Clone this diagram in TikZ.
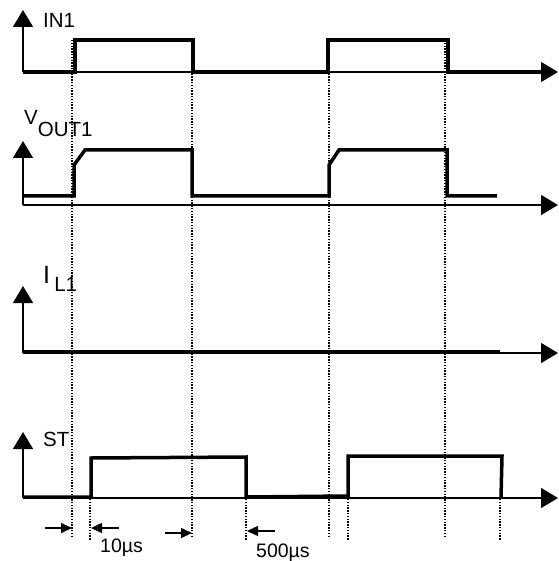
\documentclass[tikz,border=0pt]{standalone}
\usepackage{fontspec}
\setmainfont{Liberation Sans}
\usetikzlibrary{arrows.meta}
\tikzset{signal/.style={line width=3.5pt,line join=miter}}
\tikzset{time axis/.style={line width=1.5pt,-{Triangle[length=17pt,width=20pt]}}}
\tikzset{guide line/.style={line width=2.2pt,dash pattern=on 1.4pt off 1.4pt}}
\tikzset{gap arrow/.style={line width=1.5pt,-{Triangle[length=11pt,width=10pt]}}}
\tikzset{label text/.style={anchor=base west,inner sep=0pt,font=\fontsize{20.5}{22}\selectfont}}

\begin{document}
\begin{tikzpicture}[x=1pt,y=-1pt]
	\useasboundingbox (0,0) rectangle (558,561);
	% vertical guides
	\foreach \x in {72,192,329,445}
		\draw[guide line] (\x,40) -- (\x,537);
	\foreach \x in {90,246,348,500}
		\draw[guide line] (\x,499) -- (\x,540);
	% IN1
	\draw[time axis] (23,72) -- (23,10);
	\draw[time axis] (23,72) -- (558,72);
	\draw[signal] (23,72) -- (75,72) -- (75,40) -- (193,40) -- (193,72) -- (328,72)
		-- (328,40) -- (448,40) -- (448,72) -- (541,72);
	\node[label text] (in label) at (43,28) {IN1};
	% VOUT1
	\draw[time axis] (23,205) -- (23,141);
	\draw[time axis] (23,205) -- (558,205);
	\draw[signal] (23,196) -- (74,196) -- (74,165) -- (85,150) -- (192,150) -- (192,196)
		-- (329,196) -- (329,165) -- (339,150) -- (447,150) -- (447,196) -- (497,196);
	\node[label text] (vout label) at (24,125) {V\raisebox{-12pt}{OUT1}};
	% IL1
	\draw[time axis] (23,353) -- (23,286);
	\draw[time axis] (23,353) -- (558,353);
	\draw[signal] (23,352) -- (500,352);
	\node[label text] (il label) at (43,283) {\fontsize{25}{26}\selectfont I\,\raisebox{-8pt}{\fontsize{20.5}{22}\selectfont L1}};
	% ST
	\draw[time axis] (23,498) -- (23,432);
	\draw[time axis] (23,498) -- (558,498);
	\draw[signal] (23,497) -- (91,497) -- (91,458) -- (246,457) -- (246,497) -- (348,496)
		-- (348,456) -- (502,456) -- (501,498);
	\node[label text] (st label) at (43,446) {ST};
	% delays
	\draw[gap arrow] (45,528) -- (72,528);
	\draw[gap arrow] (119,528) -- (91,528);
	\draw[gap arrow] (165,533) -- (192,533);
	\draw[gap arrow] (275,531) -- (247,531);
	\node[label text,font=\fontsize{19.5}{21}\selectfont] (short delay) at (100,552) {10µs};
	\node[label text,font=\fontsize{19.5}{21}\selectfont] (long delay) at (256,557) {500µs};
\end{tikzpicture}
\end{document}
